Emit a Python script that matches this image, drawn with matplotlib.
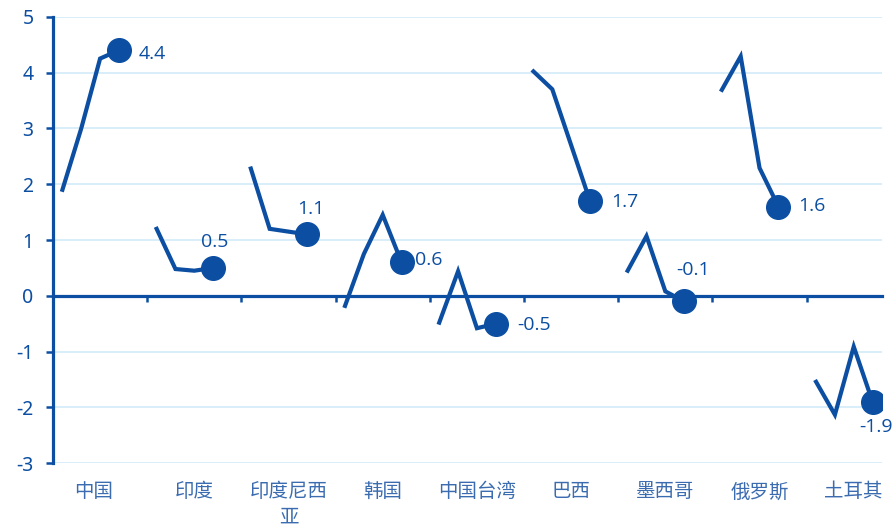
import numpy as np
import matplotlib.pyplot as plt

plt.rcParams['font.family'] = ['Open Sans', 'Noto Sans CJK SC', 'DejaVu Sans']
plt.rcParams['axes.unicode_minus'] = False

# --- data: four readings per economy, last one is the latest value ---
countries = ["中国", "印度", "印度尼西\n亚", "韩国", "中国台湾", "巴西", "墨西哥", "俄罗斯", "土耳其"]
china = [1.9, 3.0, 4.25, 4.4]
india = [1.2, 0.48, 0.45, 0.5]
indonesia = [2.28, 1.2, 1.15, 1.1]
korea = [-0.18, 0.75, 1.45, 0.6]
taiwan = [-0.48, 0.44, -0.58, -0.5]
brazil = [4.02, 3.7, 2.7, 1.7]
mexico = [0.45, 1.07, 0.08, -0.1]
russia = [3.69, 4.29, 2.29, 1.6]
turkey = [-1.54, -2.13, -0.91, -1.9]
series = [china, india, indonesia, korea, taiwan, brazil, mexico, russia, turkey]

# label offsets (pixels) of the end-point value labels
label_offsets = [(20, -4), (2, 26), (3, 25), (13, 2), (21, -1), (21, -1), (9, 31), (20, 1), (3, -25)]
label_align = ["left", "center", "center", "left", "left", "left", "center", "left", "center"]
name_shift = [-6, 0, 0, 0, 0, 0, 0, 0, 0]

blue = "#0b4ea2"
grid_blue = "#d8eef9"
label_blue = "#3b6cb0"

fig = plt.figure(figsize=(8.95, 5.25), dpi=100)
ax = fig.add_axes([53 / 895, 1 - 463.3 / 525, (882 - 53) / 895, (463.3 - 16.7) / 525])

slots = 5  # four points plus one gap per group
for i, vals in enumerate(series):
    x = i * slots + np.arange(len(vals))
    ax.plot(x, vals, color=blue, lw=3.0, solid_joinstyle="miter", zorder=3)
    ax.plot(x[-1], vals[-1], "o", color=blue, ms=17, zorder=4)
    dx, dy = label_offsets[i]
    ax.annotate(f"{vals[-1]:.1f}", (x[-1], vals[-1]), xytext=(dx, dy),
                textcoords="offset pixels", ha=label_align[i], va="center",
                fontsize=14, color=blue, annotation_clip=False, zorder=5)

ax.set_xlim(-0.5, len(series) * slots - 1.5)
ax.set_ylim(-3, 5)
ax.set_yticks(np.arange(-3, 6))
for y in range(-3, 6):
    if y != 0:
        ax.axhline(y, color=grid_blue, lw=1.4, zorder=1)

# zero line doubles as the category axis
ax.spines["bottom"].set_position(("data", 0))
ax.spines["bottom"].set_color(blue)
ax.spines["bottom"].set_linewidth(2.3)
ax.spines["bottom"].set_zorder(2)
ax.spines["left"].set_color(blue)
ax.spines["left"].set_linewidth(2.3)
ax.spines["top"].set_visible(False)
ax.spines["right"].set_visible(False)

ax.set_xticks(np.arange(1, len(series)) * slots - 0.5)
ax.set_xticklabels([])
ax.tick_params(axis="x", direction="out", length=4, width=1.8, color=blue)
ax.tick_params(axis="y", direction="out", length=5, width=1.8, color=blue,
               labelsize=14, labelcolor=blue, pad=9)
for t in ax.get_yticklabels():
    t.set_family(["Noto Sans", "DejaVu Sans"])
    t.set_fontweight("semibold")

# category names below the plot area
for i, name in enumerate(countries):
    ax.annotate(name, (i * slots + 2, 0), xycoords=("data", "axes fraction"),
                xytext=(name_shift[i], -18), textcoords="offset pixels", ha="center", va="top",
                fontsize=14, color=label_blue, linespacing=1.3,
                family=["Noto Sans CJK SC"], annotation_clip=False)

fig.savefig("out.png", dpi=100)
